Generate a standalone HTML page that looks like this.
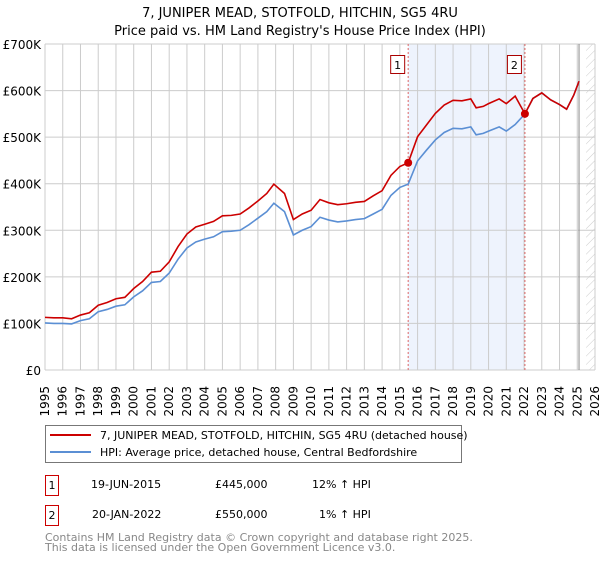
<!DOCTYPE html>
<html><head><meta charset="utf-8"><style>
body{margin:0;background:#fff;font-family:"Liberation Sans","DejaVu Sans",sans-serif;}
svg text{font-family:"DejaVu Sans","Liberation Sans",sans-serif;}
</style></head><body>
<svg id="chart" width="600" height="560" xmlns="http://www.w3.org/2000/svg">
<defs><pattern id="hatch" width="6" height="6" patternUnits="userSpaceOnUse" patternTransform="rotate(45)"><line x1="0" y1="0" x2="0" y2="6" stroke="#ccc" stroke-width="1"/></pattern></defs>
<text x="300" y="17" text-anchor="middle" font-size="13">7, JUNIPER MEAD, STOTFOLD, HITCHIN, SG5 4RU</text>
<text x="300" y="35" text-anchor="middle" font-size="13">Price paid vs. HM Land Registry's House Price Index (HPI)</text>
<g id="grid"></g><g id="marks"></g><g id="axes"></g>
<g>
<rect x="45.5" y="425.5" width="416" height="37" fill="#fff" stroke="#777"/>
<line x1="50" y1="435" x2="91" y2="435" stroke="#cc0000" stroke-width="2"/>
<text x="100" y="439" font-size="11">7, JUNIPER MEAD, STOTFOLD, HITCHIN, SG5 4RU (detached house)</text>
<line x1="50" y1="452" x2="91" y2="452" stroke="#5b8fd4" stroke-width="2"/>
<text x="100" y="456" font-size="11">HPI: Average price, detached house, Central Bedfordshire</text>
</g>
<g font-size="11">
<rect x="45.5" y="475.5" width="13" height="20" fill="#fff" stroke="#cc0000"/><text x="52" y="489" text-anchor="middle">1</text>
<text x="91" y="488">19-JUN-2015</text><text x="215" y="488">£445,000</text><text x="312" y="488">12% ↑ HPI</text>
<rect x="45.5" y="505.5" width="13" height="20" fill="#fff" stroke="#cc0000"/><text x="52" y="519" text-anchor="middle">2</text>
<text x="92" y="518">20-JAN-2022</text><text x="215" y="518">£550,000</text><text x="319" y="518">1% ↑ HPI</text>
</g>
<g font-size="11" fill="#888">
<text x="45" y="541">Contains HM Land Registry data © Crown copyright and database right 2025.</text>
<text x="45" y="551">This data is licensed under the Open Government Licence v3.0.</text>
</g>
</svg>
<script>
const yearTicks=[1995,1996,1997,1998,1999,2000,2001,2002,2003,2004,2005,2006,2007,2008,2009,2010,2011,2012,2013,2014,2015,2016,2017,2018,2019,2020,2021,2022,2023,2024,2025,2026];
const valueTicks=[0,100000,200000,300000,400000,500000,600000,700000];
const valueTickLabels=["£0","£100K","£200K","£300K","£400K","£500K","£600K","£700K"];
const hpiDates=[1995,1995.5,1996,1996.5,1997,1997.5,1998,1998.5,1999,1999.5,2000,2000.5,2001,2001.5,2002,2002.5,2003,2003.5,2004,2004.5,2005,2005.5,2006,2006.5,2007,2007.5,2007.9,2008.5,2009,2009.5,2010,2010.5,2011,2011.5,2012,2012.5,2013,2013.5,2014,2014.5,2015,2015.47,2016,2016.5,2017,2017.5,2018,2018.5,2019,2019.3,2019.7,2020,2020.6,2021,2021.5,2022.05,2022.5,2023,2023.5,2024,2024.4,2024.8,2025.1];
const hpiValues=[101,100,100,99,106,110,125,130,137,140,157,170,188,190,208,238,262,275,281,286,297,298,300,312,326,340,358,340,290,300,308,328,322,318,320,323,325,335,345,375,392,399,449,472,494,510,519,518,522,505,508,513,522,513,527,550,583,595,580,570,560,590,620];
const priceDates=hpiDates;
const priceValues=[113,112,112,110,118,123,139,145,153,156,175,190,210,212,232,265,292,307,313,319,331,332,335,348,363,379,399,379,323,335,343,366,359,355,357,360,362,374,385,418,437,445,501,526,551,569,579,578,582,563,566,572,582,572,588,550,583,595,580,570,560,590,620];
const sales=[{n:"1",d:2015.47,v:445000},{n:"2",d:2022.05,v:550000}];
const X=t=>45+(t-1995)*(550/31), Y=v=>370-v/700000*326;
const NS="http://www.w3.org/2000/svg";
function mk(p,tag,a){const e=document.createElementNS(NS,tag);for(const k in a)e.setAttribute(k,a[k]);p.appendChild(e);return e;}
const grid=document.getElementById('grid'),marks=document.getElementById('marks'),axes=document.getElementById('axes');
const shade=mk(grid,'rect',{x:X(sales[0].d),y:44,width:X(sales[1].d)-X(sales[0].d),height:326,fill:'#eef3fd'});


const hatch=mk(grid,'rect',{x:X(2025.5),y:44,width:X(2026)-X(2025.5),height:326,fill:'url(#hatch)'});


yearTicks.forEach(t=>{const l=mk(grid,'line',{x1:X(t),x2:X(t),y1:44,y2:370,stroke:'#ccc'});


const tx=mk(axes,'text',{x:0,y:0,'font-size':'12',transform:`translate(${X(t)+4},386) rotate(-90)`,'text-anchor':'end'});tx.textContent=t;

});
valueTicks.forEach((v,i)=>{const l=mk(grid,'line',{x1:45,x2:595,y1:Y(v),y2:Y(v),stroke:'#ccc'});


const tx=mk(axes,'text',{x:41,y:Y(v)+5,'font-size':'12','text-anchor':'end'});tx.textContent=valueTickLabels[i];

});
const nowLine=mk(grid,'line',{x1:X(2025.1),x2:X(2025.1),y1:44,y2:370,stroke:'#888'});


sales.forEach(s=>{const l=mk(marks,'line',{x1:X(s.d),x2:X(s.d),y1:44,y2:370,stroke:'#d66','stroke-dasharray':'2,2'});


const b=mk(marks,'rect',{x:X(s.d)-17.5,y:55.5,width:14,height:18,fill:'#fff',stroke:'#aa0000'});


const t=mk(marks,'text',{x:X(s.d)-10.5,y:69,'font-size':'11','text-anchor':'middle'});t.textContent=s.n;

});
const hp=mk(marks,'polyline',{points:hpiDates.map((d,i)=>X(d)+','+Y(hpiValues[i]*1000)).join(' '),fill:'none',stroke:'#5b8fd4','stroke-width':1.6});


const pp=mk(marks,'polyline',{points:priceDates.map((d,i)=>X(d)+','+Y(priceValues[i]*1000)).join(' '),fill:'none',stroke:'#cc0000','stroke-width':1.6});


sales.forEach(s=>{const c=mk(marks,'circle',{cx:X(s.d),cy:Y(s.v),r:4,fill:'#cc0000'});

});
</script>
</body></html>
